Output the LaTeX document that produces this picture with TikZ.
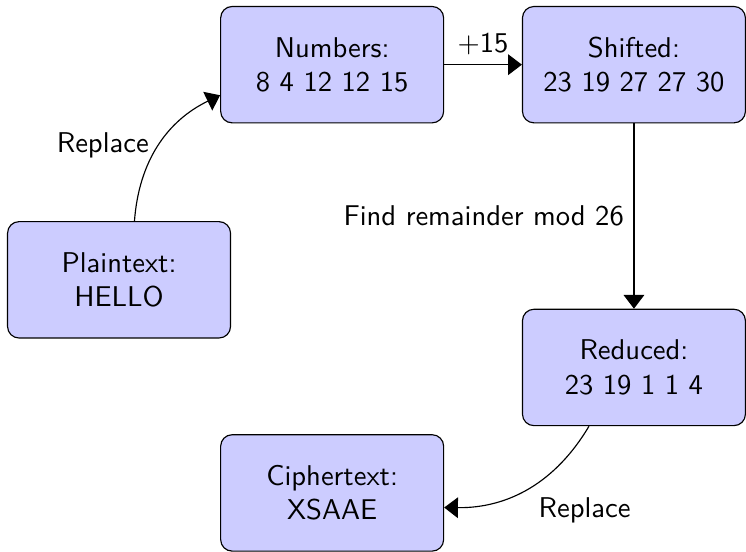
\documentclass[tikz,border=0pt]{standalone}
\usepackage{tikz}
\usetikzlibrary{arrows.meta,positioning}

\begin{document}
\begin{tikzpicture}[every node/.style={font=\sffamily},
    stage/.style={draw, rounded corners, fill=blue!20, minimum width=2.74cm, minimum height=1.43cm, align=center},
    >={Triangle[width=7.2pt,length=4.8pt]}]
    \node[stage] (plain) {Plaintext:\\HELLO};
    \node[stage, above right=1.2cm and -0.135cm of plain] (num) {Numbers:\\8 4 12 12 15};
    \node[stage, right=0.955cm of num] (shifted) {Shifted:\\23 19 27 27 30};
    \node[stage, below=2.277cm of shifted] (red) {Reduced:\\23 19 1 1 4};
    \node[stage, below left=0.098cm and 0.955cm of red] (ciph) {Ciphertext:\\XSAAE};

    \draw[->] (plain) to[bend left] node[left] {Replace} (num);
    \draw[->] (num) -- node[above] {$+$15} (shifted);
    \draw[->] (shifted) -- node[left] {Find remainder mod 26} (red);
    \draw[->] (red) to[bend left] node[below right] {Replace} (ciph);

    % keep the page tight round the boxes
    \pgfresetboundingbox
    \coordinate (tl) at (plain.west |- num.north);
    \coordinate (br) at (shifted.east |- ciph.south);
    \useasboundingbox ([xshift=-0.086cm, yshift=0.073cm]tl) rectangle (br);
\end{tikzpicture}
\end{document}
